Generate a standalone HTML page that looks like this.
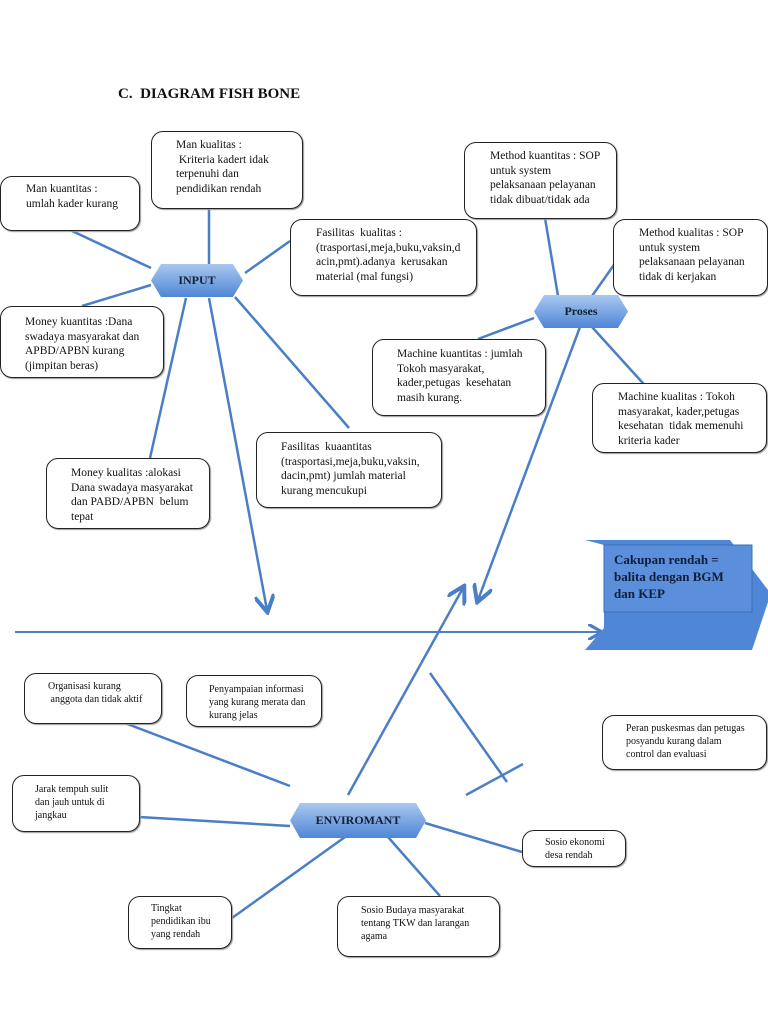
<!DOCTYPE html>
<html><head><meta charset="utf-8"><style>
body{margin:0;background:#fff}
#c{position:relative;width:768px;height:1024px;overflow:hidden;font-family:"Liberation Serif",serif;color:#111}
.b{position:absolute;border:1px solid #222;border-radius:12px;background:#fff;box-sizing:border-box;font-size:11.5px;line-height:14.5px;box-shadow:1px 1px 1px #999}
.t{position:absolute;font-size:11.5px;line-height:14.5px}
.n{font-size:10px;line-height:13px}
.h{position:absolute;display:flex;align-items:center;justify-content:center;font-weight:bold;font-size:12px;color:#123;clip-path:polygon(10px 0,calc(100% - 10px) 0,100% 50%,calc(100% - 10px) 100%,10px 100%,0 50%);background:linear-gradient(#a9c8ef,#4f86d6)}
</style></head><body><div id="c">
<svg width="768" height="1024" style="position:absolute;left:0;top:0">
<defs><marker id="a" markerWidth="8" markerHeight="8" refX="6" refY="4" orient="auto"><path d="M0,0 L7,4 L0,8" fill="none" stroke="#4a7ec6" stroke-width="1.6"/></marker></defs>
<g stroke="#4a7ec6" stroke-width="2.5" fill="none">
<line x1="70" y1="230" x2="151" y2="268"/><line x1="209" y1="208" x2="209" y2="264"/><line x1="290" y1="241" x2="245" y2="273"/>
<line x1="82" y1="306" x2="151" y2="285"/><line x1="186" y1="298" x2="150" y2="458"/><line x1="209" y1="298" x2="267" y2="610" marker-end="url(#a)"/>
<line x1="235" y1="297" x2="349" y2="428"/>
<line x1="545" y1="218" x2="558" y2="296"/><line x1="616" y1="262" x2="592" y2="296"/><line x1="478" y1="339" x2="534" y2="318"/>
<line x1="580" y1="327" x2="478" y2="600" marker-end="url(#a)"/><line x1="592" y1="327" x2="651" y2="392"/>
<line x1="15" y1="632" x2="600" y2="632" stroke-width="2" marker-end="url(#a)"/>
<line x1="117" y1="720" x2="290" y2="786"/><line x1="348" y1="795" x2="463" y2="588" marker-end="url(#a)"/>
<line x1="430" y1="673" x2="507" y2="782"/><line x1="466" y1="795" x2="523" y2="764"/>
<line x1="139" y1="817" x2="290" y2="826"/><line x1="345" y1="837" x2="232" y2="918"/><line x1="388" y1="837" x2="440" y2="896"/><line x1="425" y1="823" x2="522" y2="852"/>
</g>
<polygon points="585,540 730,540 768,590 768,602 752,650 585,650 604,628 604,545" fill="#4f86d6"/>
<rect x="604" y="545" width="148" height="67" fill="#5b8fdc" stroke="#3b6fb8"/>
</svg>
<div style="position:absolute;left:118px;top:86px;font-weight:bold;font-size:15px">C.&nbsp; DIAGRAM FISH BONE</div>
<div style="position:absolute;left:614px;top:551px;font-weight:bold;font-size:13px;line-height:17px;color:#0d1e3a">Cakupan rendah =<br>balita dengan BGM<br>dan KEP</div>
<div class="b" style="left:0;top:176px;width:140px;height:55px"></div><div class="t" style="left:26px;top:182px">Man kuantitas :<br>umlah kader kurang</div>
<div class="b" style="left:151px;top:131px;width:152px;height:78px"></div><div class="t" style="left:176px;top:138px">Man kualitas :<br>&nbsp;Kriteria kadert idak<br>terpenuhi dan<br>pendidikan rendah</div>
<div class="b" style="left:290px;top:219px;width:187px;height:77px"></div><div class="t" style="left:316px;top:226px">Fasilitas&nbsp; kualitas :<br>(trasportasi,meja,buku,vaksin,d<br>acin,pmt).adanya&nbsp; kerusakan<br>material (mal fungsi)</div>
<div class="b" style="left:0;top:306px;width:164px;height:72px"></div><div class="t" style="left:25px;top:315px">Money kuantitas :Dana<br>swadaya masyarakat dan<br>APBD/APBN kurang<br>(jimpitan beras)</div>
<div class="b" style="left:46px;top:458px;width:164px;height:71px"></div><div class="t" style="left:71px;top:466px">Money kualitas :alokasi<br>Dana swadaya masyarakat<br>dan PABD/APBN&nbsp; belum<br>tepat</div>
<div class="b" style="left:256px;top:432px;width:186px;height:76px"></div><div class="t" style="left:281px;top:440px">Fasilitas&nbsp; kuaantitas<br>(trasportasi,meja,buku,vaksin,<br>dacin,pmt) jumlah material<br>kurang mencukupi</div>
<div class="b" style="left:464px;top:142px;width:153px;height:77px"></div><div class="t" style="left:490px;top:149px">Method kuantitas : SOP<br>untuk system<br>pelaksanaan pelayanan<br>tidak dibuat/tidak ada</div>
<div class="b" style="left:613px;top:219px;width:155px;height:77px"></div><div class="t" style="left:639px;top:226px">Method kualitas : SOP<br>untuk system<br>pelaksanaan pelayanan<br>tidak di kerjakan</div>
<div class="b" style="left:372px;top:339px;width:174px;height:77px"></div><div class="t" style="left:397px;top:347px">Machine kuantitas : jumlah<br>Tokoh masyarakat,<br>kader,petugas&nbsp; kesehatan<br>masih kurang.</div>
<div class="b" style="left:592px;top:383px;width:175px;height:70px"></div><div class="t" style="left:618px;top:390px">Machine kualitas : Tokoh<br>masyarakat, kader,petugas<br>kesehatan&nbsp; tidak memenuhi<br>kriteria kader</div>
<div class="b" style="left:24px;top:673px;width:138px;height:51px"></div><div class="t n" style="left:48px;top:680px">Organisasi kurang<br>&nbsp;anggota dan tidak aktif</div>
<div class="b" style="left:186px;top:675px;width:136px;height:52px"></div><div class="t n" style="left:209px;top:683px">Penyampaian informasi<br>yang kurang merata dan<br>kurang jelas</div>
<div class="b" style="left:12px;top:775px;width:128px;height:57px"></div><div class="t n" style="left:35px;top:783px">Jarak tempuh sulit<br>dan jauh untuk di<br>jangkau</div>
<div class="b" style="left:602px;top:715px;width:165px;height:55px"></div><div class="t n" style="left:626px;top:722px">Peran puskesmas dan petugas<br>posyandu kurang dalam<br>control dan evaluasi</div>
<div class="b" style="left:522px;top:830px;width:104px;height:37px"></div><div class="t n" style="left:545px;top:836px">Sosio ekonomi<br>desa rendah</div>
<div class="b" style="left:128px;top:896px;width:104px;height:53px"></div><div class="t n" style="left:151px;top:902px">Tingkat<br>pendidikan ibu<br>yang rendah</div>
<div class="b" style="left:337px;top:896px;width:163px;height:61px"></div><div class="t n" style="left:361px;top:904px">Sosio Budaya masyarakat<br>tentang TKW dan larangan<br>agama</div>
<div class="h" style="left:151px;top:264px;width:92px;height:33px">INPUT</div>
<div class="h" style="left:534px;top:295px;width:94px;height:33px">Proses</div>
<div class="h" style="left:290px;top:803px;width:136px;height:35px">ENVIROMANT</div>
</div></body></html>
